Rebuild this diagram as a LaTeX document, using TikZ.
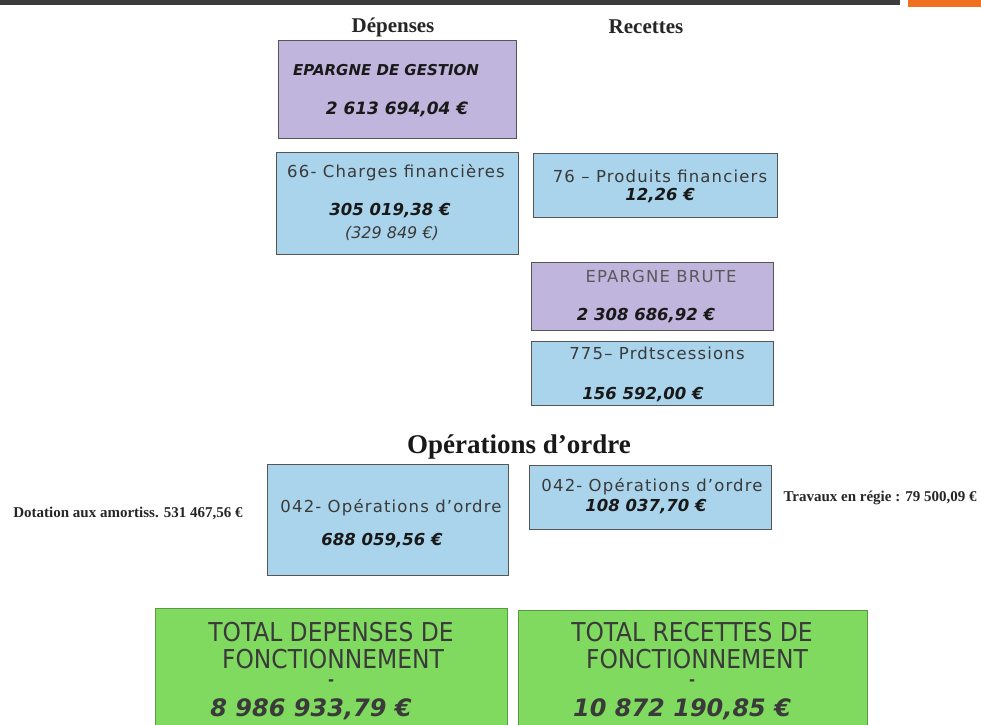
\documentclass[tikz,border=0pt]{standalone}
\usepackage{fontspec}
\setmainfont{Liberation Serif}
\newfontfamily\boxfont{DejaVu Sans}
\newfontfamily\boxfontsp[LetterSpace=7]{DejaVu Sans}
\newfontfamily\totfont{DejaVu Sans Condensed}
\definecolor{lav}{HTML}{BFB5DD}
\definecolor{sky}{HTML}{A9D4EB}
\definecolor{lime}{HTML}{80DA60}
\definecolor{edge}{HTML}{555555}
\definecolor{txt}{HTML}{3A3A3A}
\definecolor{bar}{HTML}{3C3C3C}
\definecolor{orng}{HTML}{F07020}
\tikzset{
  panel/.style={draw=edge, line width=1.2pt, anchor=north west, inner sep=0pt},
  lavbox/.style={panel, fill=lav},
  skybox/.style={panel, fill=sky},
  limebox/.style={panel, fill=lime, draw=lime!70!black, line width=0.8pt},
  lbl/.style={font=\boxfontsp\fontsize{16.5}{18}\selectfont, text=txt, inner sep=0pt},
  amt/.style={font=\boxfont\bfseries\itshape\fontsize{16.5}{18}\selectfont, text=black!90, inner sep=0pt},
  head/.style={font=\bfseries\fontsize{21}{23}\selectfont, text=black!85, inner sep=0pt},
  side/.style={font=\bfseries\fontsize{15}{17}\selectfont, text=black!85, inner sep=0pt},
  tot/.style={font=\totfont\fontsize{26}{28}\selectfont, text=txt, inner sep=0pt},
  totamt/.style={font=\boxfont\bfseries\itshape\fontsize{24}{26}\selectfont, text=txt, inner sep=0pt}
}
\begin{document}
\begin{tikzpicture}[x=1pt,y=-1pt]
\useasboundingbox (0,0) rectangle (981,724);
\clip (0,0) rectangle (981,724);
\fill[bar] (0,0) rectangle (900,5);
\fill[orng] (908,0) rectangle (981,7);

\node[head] (hdep) at (393,27) {Dépenses};
\node[head] (hrec) at (646,27) {Recettes};

% Epargne de gestion
\node[lavbox, minimum width=238pt, minimum height=98pt] (eg) at (278,40) {};
\node[amt, font=\boxfont\bfseries\itshape\fontsize{15}{17}\selectfont, anchor=west] (egt) at (293,70) {EPARGNE DE GESTION};
\node[amt, font=\boxfont\bfseries\itshape\fontsize{17}{19}\selectfont] (ega) at (397,109) {2 613 694,04 €};

% 66 charges
\node[skybox, minimum width=242pt, minimum height=102pt] (ch) at (276,152) {};
\node[lbl, anchor=west] (cht) at (287,173) {66- Charges financières};
\node[amt] (cha) at (390,211) {305 019,38 €};
\node[lbl, font=\boxfont\itshape\fontsize{16}{18}\selectfont] (chb) at (392,233) {(329 849 €)};

% 76 produits
\node[skybox, minimum width=244pt, minimum height=64pt] (pf) at (533,153) {};
\node[lbl] (pft) at (660,176) {76 – Produits financiers};
\node[amt] (pfa) at (660,196) {12,26 €};

% Epargne brute
\node[lavbox, minimum width=242pt, minimum height=68pt] (eb) at (531,262) {};
\node[lbl, text=black!65] (ebt) at (661,276) {EPARGNE BRUTE};
\node[amt] (eba) at (646,316) {2 308 686,92 €};

% 775
\node[skybox, minimum width=242pt, minimum height=64pt] (pc) at (531,341) {};
\node[lbl] (pct) at (657,353) {775– Prdtscessions};
\node[amt] (pca) at (643,395) {156 592,00 €};

% Operations d'ordre
\node[font=\bfseries\fontsize{27}{30}\selectfont, text=black!90, inner sep=0pt] (oo) at (519,447) {Opérations d’ordre};

\node[skybox, minimum width=241pt, minimum height=111pt] (ol) at (267,464) {};
\node[lbl] (olt) at (391,508) {042- Opérations d’ordre};
\node[amt] (ola) at (382,541) {688 059,56 €};

\node[skybox, minimum width=242pt, minimum height=64pt] (or) at (529,465) {};
\node[lbl] (ort) at (652,487) {042- Opérations d’ordre};
\node[amt] (ora) at (646,507) {108 037,70 €};

\node[side] (dot) at (128,513) {Dotation aux amortiss. 531 467,56 €};
\node[side] (trv) at (880,498) {Travaux en régie : 79 500,09 €};

% Totals
\node[limebox, minimum width=352pt, minimum height=130pt] (td) at (155,608) {};
\node[tot] (td1) at (331,632) {TOTAL DEPENSES DE};
\node[tot] (td2) at (333,659) {FONCTIONNEMENT};
\node[tot, font=\totfont\bfseries\fontsize{16}{18}\selectfont] (td3) at (331,683) {-};
\node[totamt] (td4) at (311,709) {8 986 933,79 €};

\node[limebox, minimum width=349pt, minimum height=130pt] (tr) at (518,610) {};
\node[tot] (tr1) at (692,632) {TOTAL RECETTES DE};
\node[tot] (tr2) at (697,659) {FONCTIONNEMENT};
\node[tot, font=\totfont\bfseries\fontsize{16}{18}\selectfont] (tr3) at (692,683) {-};
\node[totamt] (tr4) at (682,709) {10 872 190,85 €};
\end{tikzpicture}
\end{document}
